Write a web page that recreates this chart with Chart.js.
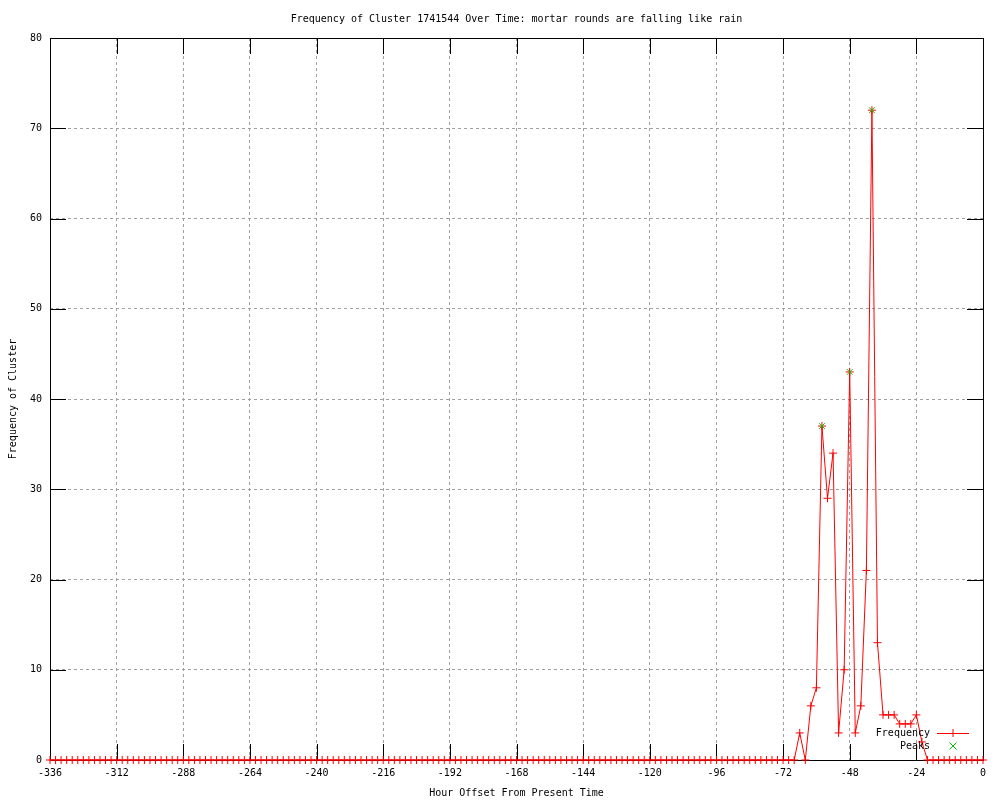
<!DOCTYPE html>
<html>
<head>
<meta charset="utf-8">
<script src="https://cdn.jsdelivr.net/npm/chart.js@4.4.1/dist/chart.umd.min.js"></script>
<style>
  html, body { margin: 0; padding: 0; background: #ffffff; }
  #wrap { width: 1000px; height: 800px; }
</style>
</head>
<body>
<div id="wrap"><canvas id="c" width="1000" height="800"></canvas></div>
<script>
// ---- Data ----
const hours = [
  -336,-334,-332,-330,-328,-326,-324,-322,-320,-318,
  -316,-314,-312,-310,-308,-306,-304,-302,-300,-298,
  -296,-294,-292,-290,-288,-286,-284,-282,-280,-278,
  -276,-274,-272,-270,-268,-266,-264,-262,-260,-258,
  -256,-254,-252,-250,-248,-246,-244,-242,-240,-238,
  -236,-234,-232,-230,-228,-226,-224,-222,-220,-218,
  -216,-214,-212,-210,-208,-206,-204,-202,-200,-198,
  -196,-194,-192,-190,-188,-186,-184,-182,-180,-178,
  -176,-174,-172,-170,-168,-166,-164,-162,-160,-158,
  -156,-154,-152,-150,-148,-146,-144,-142,-140,-138,
  -136,-134,-132,-130,-128,-126,-124,-122,-120,-118,
  -116,-114,-112,-110,-108,-106,-104,-102,-100,-98,
  -96,-94,-92,-90,-88,-86,-84,-82,-80,-78,
  -76,-74,-72,-70,-68,-66,-64,-62,-60,-58,
  -56,-54,-52,-50,-48,-46,-44,-42,-40,-38,
  -36,-34,-32,-30,-28,-26,-24,-22,-20,-18,
  -16,-14,-12,-10,-8,-6,-4,-2,0
];
const frequency = [
  0,0,0,0,0,0,0,0,0,0,
  0,0,0,0,0,0,0,0,0,0,
  0,0,0,0,0,0,0,0,0,0,
  0,0,0,0,0,0,0,0,0,0,
  0,0,0,0,0,0,0,0,0,0,
  0,0,0,0,0,0,0,0,0,0,
  0,0,0,0,0,0,0,0,0,0,
  0,0,0,0,0,0,0,0,0,0,
  0,0,0,0,0,0,0,0,0,0,
  0,0,0,0,0,0,0,0,0,0,
  0,0,0,0,0,0,0,0,0,0,
  0,0,0,0,0,0,0,0,0,0,
  0,0,0,0,0,0,0,0,0,0,
  0,0,0,0,0,3,0,6,8,37,
  29,34,3,10,43,3,6,21,72,13,
  5,5,5,4,4,4,5,2,0,0,
  0,0,0,0,0,0,0,0,0
];
const peakHours = [-58, -48, -40];
const peakValues = [37, 43, 72];

const titleText = 'Frequency of Cluster 1741544 Over Time: mortar rounds are falling like rain';
const xTitle = 'Hour Offset From Present Time';
const yTitle = 'Frequency of Cluster';
const seriesNames = ['Frequency', 'Peaks'];

const FONT = '"DejaVu Sans Mono", "Liberation Mono", monospace';
Chart.defaults.font.family = FONT;
Chart.defaults.font.size = 10;
Chart.defaults.color = '#000000';

const freqData = hours.map((h, i) => ({ x: h, y: frequency[i] }));
const peakData = peakHours.map((h, i) => ({ x: h, y: peakValues[i] }));

// frame, inward tick marks
const framePlugin = {
  id: 'frame',
  beforeDatasetsDraw(chart) {
    const { ctx, chartArea: a, scales } = chart;
    ctx.save();
    ctx.strokeStyle = '#000000';
    ctx.lineWidth = 1;
    ctx.beginPath();
    const T = 16;
    scales.x.ticks.forEach(t => {
      const px = Math.round(scales.x.getPixelForValue(t.value)) + 0.5;
      ctx.moveTo(px, a.bottom); ctx.lineTo(px, a.bottom - T);
      ctx.moveTo(px, a.top); ctx.lineTo(px, a.top + T);
    });
    scales.y.ticks.forEach(t => {
      const py = Math.round(scales.y.getPixelForValue(t.value)) + 0.5;
      ctx.moveTo(a.left, py); ctx.lineTo(a.left + T, py);
      ctx.moveTo(a.right, py); ctx.lineTo(a.right - T, py);
    });
    ctx.stroke();
    ctx.strokeRect(Math.round(a.left) + 0.5, Math.round(a.top) + 0.5,
                   Math.round(a.right - a.left), Math.round(a.bottom - a.top));
    ctx.restore();
  }
};

// gnuplot-style key (bottom right, inside plot)
const keyPlugin = {
  id: 'key',
  afterDatasetsDraw(chart) {
    const { ctx, chartArea: a } = chart;
    const ds = chart.data.datasets;
    ctx.save();
    ctx.font = '10px ' + FONT;
    ctx.fillStyle = '#000000';
    ctx.textAlign = 'right';
    ctx.textBaseline = 'middle';
    const textX = a.right - 53;
    const y1 = a.bottom - 27, y2 = a.bottom - 14;
    ctx.fillText(ds[0].label, textX, y1);
    ctx.fillText(ds[1].label, textX, y2);
    const sx1 = a.right - 46, sx2 = a.right - 14, cx = (sx1 + sx2) / 2;
    ctx.strokeStyle = ds[0].borderColor;
    ctx.lineWidth = 1;
    ctx.beginPath();
    ctx.moveTo(sx1, Math.round(y1) + 0.5); ctx.lineTo(sx2, Math.round(y1) + 0.5);
    ctx.moveTo(cx, y1 - 4); ctx.lineTo(cx, y1 + 4);
    ctx.stroke();
    ctx.strokeStyle = ds[1].pointBorderColor;
    ctx.beginPath();
    ctx.moveTo(cx - 3.5, y2 - 3.5); ctx.lineTo(cx + 3.5, y2 + 3.5);
    ctx.moveTo(cx + 3.5, y2 - 3.5); ctx.lineTo(cx - 3.5, y2 + 3.5);
    ctx.stroke();
    ctx.restore();
  }
};

new Chart(document.getElementById('c'), {
  type: 'line',
  data: {
    datasets: [
      {
        label: seriesNames[0],
        data: freqData,
        borderColor: '#ff0000',
        borderWidth: 1,
        pointStyle: 'cross',
        pointRadius: 4,
        pointBorderColor: '#ff0000',
        pointBorderWidth: 1,
        pointHoverRadius: 4,
        tension: 0,
        fill: false,
        clip: false,
        order: 2
      },
      {
        label: seriesNames[1],
        data: peakData,
        showLine: false,
        pointStyle: 'crossRot',
        pointRadius: 4,
        pointBorderColor: '#00c000',
        pointBorderWidth: 1,
        borderColor: '#00c000',
        clip: false,
        order: 1
      }
    ]
  },
  options: {
    responsive: false,
    animation: false,
    events: [],
    layout: { padding: { left: 0, right: 17, top: 0, bottom: 0 } },
    plugins: {
      legend: { display: false },
      tooltip: { enabled: false },
      title: {
        display: true,
        text: titleText,
        fullSize: false,
        color: '#000000',
        font: { family: FONT, size: 10, weight: 'normal', lineHeight: 1.2 },
        padding: { top: 13, bottom: 13 }
      }
    },
    scales: {
      x: {
        type: 'linear',
        min: -336,
        max: 0,
        afterFit(s) { s.height = 40; },
        ticks: { stepSize: 24, color: '#000000', padding: 7, maxRotation: 0, autoSkip: false,
                 font: { family: FONT, size: 10 } },
        grid: { color: '#a0a0a0', lineWidth: 1, drawTicks: false },
        border: { display: false, dash: [3, 3] },
        title: { display: true, text: xTitle, color: '#000000',
                 font: { family: FONT, size: 10 }, padding: { top: 0, bottom: 1 } }
      },
      y: {
        type: 'linear',
        min: 0,
        max: 80,
        afterFit(s) { s.width = 50; },
        ticks: { stepSize: 10, color: '#000000', padding: 8,
                 font: { family: FONT, size: 10 } },
        grid: { color: '#a0a0a0', lineWidth: 1, drawTicks: false },
        border: { display: false, dash: [3, 3] },
        title: { display: true, text: yTitle, color: '#000000',
                 font: { family: FONT, size: 10 }, padding: { top: 7, bottom: 0 } }
      }
    }
  },
  plugins: [framePlugin, keyPlugin]
});
</script>
</body>
</html>
